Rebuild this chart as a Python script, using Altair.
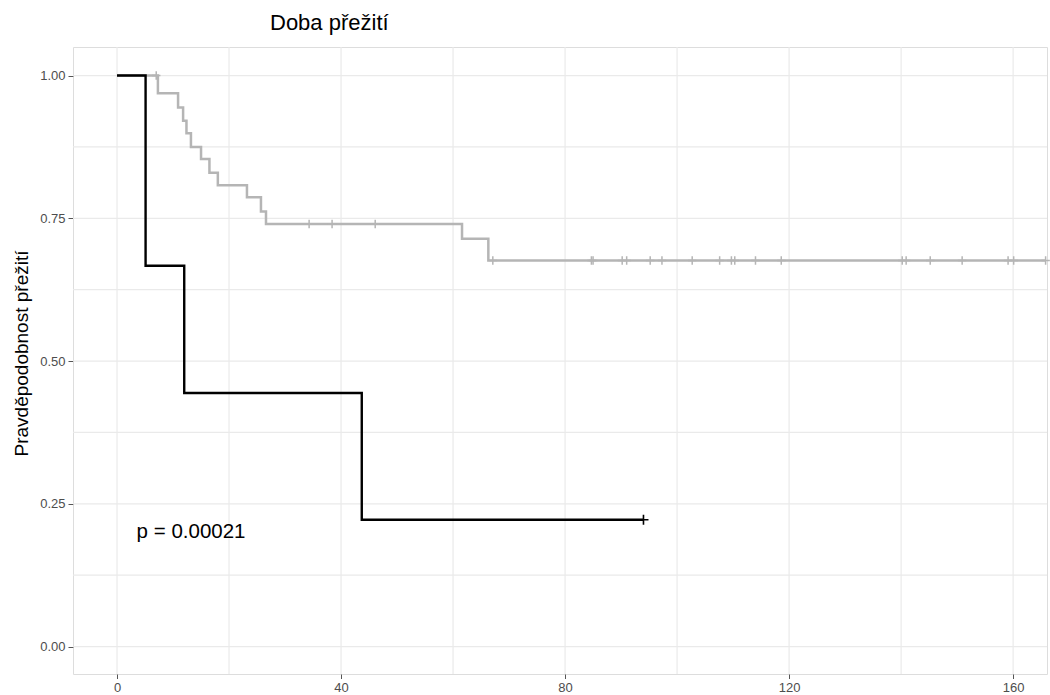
import altair as alt
import pandas as pd

# Kaplan-Meier steps: time (months) and survival probability
black_time = [0, 5.1, 12.0, 43.7, 94.0]
black_surv = [1.0, 0.667, 0.444, 0.222, 0.222]
black_censor = [94.0]

gray_time = [0, 7.3, 10.9, 11.8, 12.4, 13.2, 15.0, 16.5, 18.0, 23.2, 25.7, 26.6, 61.6, 66.3, 165.8]
gray_surv = [1.0, 0.969, 0.944, 0.921, 0.899, 0.875, 0.854, 0.830, 0.808, 0.787, 0.762, 0.740, 0.714, 0.676, 0.676]
gray_censor = [7.0, 34.3, 38.4, 46.1, 67.1, 84.7, 85.0, 90.2, 91.0, 95.2, 97.3, 102.7,
               107.6, 109.7, 110.3, 114.0, 118.6, 140.2, 140.9, 145.2, 150.9, 159.1, 160.1, 165.8]

x_ticks = [0, 40, 80, 120, 160]
y_ticks = [0, 0.25, 0.5, 0.75, 1.0]
x_grid = [0, 20, 40, 60, 80, 100, 120, 140, 160]
y_grid = [0, 0.125, 0.25, 0.375, 0.5, 0.625, 0.75, 0.875, 1.0]

p_label = "p = 0.00021"
p_pos = (3.5, 0.2)

title_text = "Doba přežití"
y_title = "Pravděpodobnost přežití"

BLACK = "#000000"
GRAY = "#B5B5B5"
GRID = "#EAEAEA"
FONT = "Liberation Sans"
PLUS = "M0,-1L0,1M-1,0L1,0"


def step_value(times, survs, t):
    s = survs[0]
    for tt, ss in zip(times, survs):
        if tt <= t:
            s = ss
    return s


black_df = pd.DataFrame({"t": black_time, "s": black_surv})
gray_df = pd.DataFrame({"t": gray_time, "s": gray_surv})
black_cens_df = pd.DataFrame({"t": black_censor,
                              "s": [step_value(black_time, black_surv, c) for c in black_censor]})
gray_cens_df = pd.DataFrame({"t": gray_censor,
                             "s": [step_value(gray_time, gray_surv, c) for c in gray_censor]})
xg_df = pd.DataFrame({"t": x_grid})
yg_df = pd.DataFrame({"s": y_grid})
p_df = pd.DataFrame({"t": [p_pos[0]], "s": [p_pos[1]], "label": [p_label]})

xs = alt.Scale(domain=[-7.86, 166.05], nice=False, zero=False)
ys = alt.Scale(domain=[-0.048, 1.05], nice=False, zero=False)

x_axis = alt.Axis(values=x_ticks, format="d", grid=False, domain=False,
                  tickSize=4.5, tickWidth=1, tickColor="#555555",
                  labelColor="#4D4D4D", labelFontSize=13, labelFont=FONT,
                  labelPadding=3, title=None)
y_axis = alt.Axis(values=y_ticks, format=".2f", grid=False, domain=False,
                  tickSize=5, tickWidth=1, tickColor="#555555",
                  labelColor="#4D4D4D", labelFontSize=13, labelFont=FONT,
                  labelPadding=3, title=y_title, titleFont=FONT,
                  titleFontSize=19, titleFontWeight="normal", titleColor="black",
                  titleX=-46, titleY=306, titleAngle=270,
                  titleBaseline="alphabetic", titleAlign="center")

X = alt.X("t:Q", scale=xs, axis=x_axis)
Y = alt.Y("s:Q", scale=ys, axis=y_axis)

grid_v = alt.Chart(xg_df).mark_rule(color=GRID, strokeWidth=1.2).encode(x=X)
grid_h = alt.Chart(yg_df).mark_rule(color=GRID, strokeWidth=1.2).encode(y=Y)

gray_line = alt.Chart(gray_df).mark_line(
    interpolate="step-after", color=GRAY, strokeWidth=2.5).encode(x=X, y=Y)
gray_marks = alt.Chart(gray_cens_df).mark_point(
    shape=PLUS, filled=False, color=GRAY, strokeWidth=1.5, size=72, opacity=1).encode(x=X, y=Y)

black_line = alt.Chart(black_df).mark_line(
    interpolate="step-after", color=BLACK, strokeWidth=2.4).encode(x=X, y=Y)
black_marks = alt.Chart(black_cens_df).mark_point(
    shape=PLUS, filled=False, color=BLACK, strokeWidth=1.6, size=100, opacity=1).encode(x=X, y=Y)

p_text = alt.Chart(p_df).mark_text(
    align="left", baseline="middle", fontSize=20.5, font=FONT, color="black").encode(
    x=X, y=Y, text="label:N")

chart = alt.layer(
    grid_v, grid_h, gray_line, gray_marks, black_line, black_marks, p_text
).properties(
    width=974,
    height=627,
    autosize=alt.AutoSizeParams(type="none"),
    padding={"left": 73, "top": 47, "right": 3, "bottom": 21},
    title=alt.TitleParams(title_text, anchor="start", frame="group", dx=197, dy=20,
                          offset=14, baseline="alphabetic", fontSize=22,
                          fontWeight="normal", font=FONT, color="black"),
).configure_view(
    stroke="#C4C4C4", strokeWidth=1.5
).configure(background="white")

chart.save("out.html", embed_options={"renderer": "svg", "actions": False})
